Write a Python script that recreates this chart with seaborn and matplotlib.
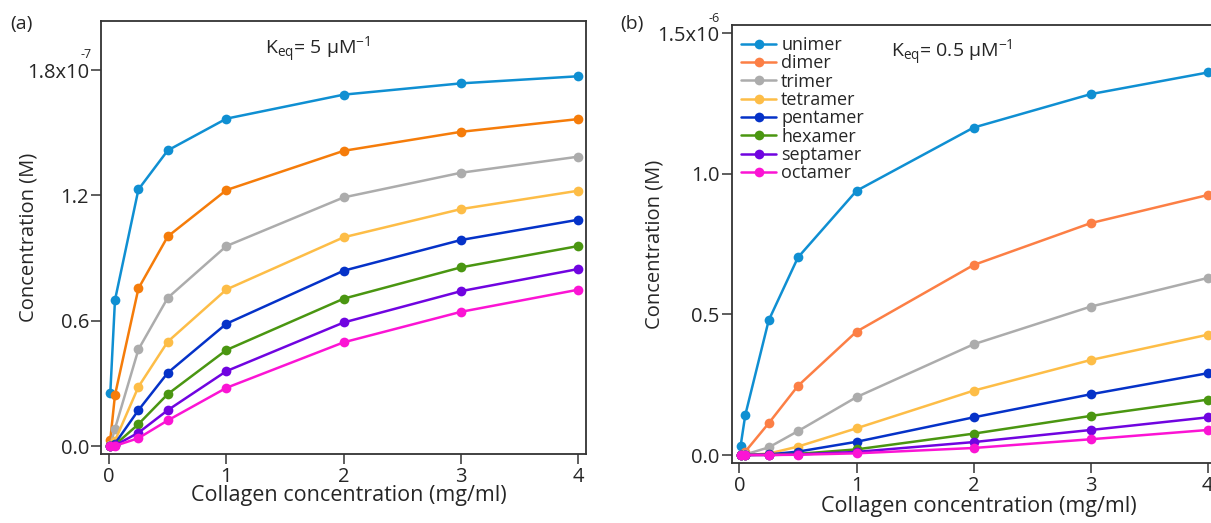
import numpy as np
import pandas as pd
import matplotlib
matplotlib.use("Agg")
import matplotlib.pyplot as plt
import seaborn as sns

sns.set_style("ticks")
plt.rcParams['font.family'] = ['Open Sans', 'DejaVu Sans']
plt.rcParams['mathtext.fontset'] = 'custom'
plt.rcParams['mathtext.rm'] = 'Open Sans'
plt.rcParams['mathtext.it'] = 'Open Sans:italic'
plt.rcParams['axes.unicode_minus'] = False

# collagen concentration (mg/ml)
collagen = [0.01, 0.05, 0.25, 0.5, 1, 2, 3, 4]
species = ['unimer', 'dimer', 'trimer', 'tetramer', 'pentamer', 'hexamer', 'septamer', 'octamer']

# Keq = 5 uM^-1, concentration in 1e-7 M
unimer_a = [0.252, 0.699, 1.229, 1.416, 1.568, 1.683, 1.737, 1.771]
dimer_a = [0.030, 0.244, 0.755, 1.004, 1.226, 1.414, 1.505, 1.566]
trimer_a = [0.004, 0.083, 0.463, 0.710, 0.958, 1.191, 1.309, 1.386]
tetramer_a = [0.001, 0.025, 0.284, 0.500, 0.750, 1.000, 1.135, 1.223]
pentamer_a = [0.000, 0.012, 0.172, 0.351, 0.586, 0.840, 0.987, 1.084]
hexamer_a = [0.000, 0.006, 0.105, 0.249, 0.460, 0.706, 0.856, 0.958]
septamer_a = [0.000, 0.003, 0.064, 0.172, 0.359, 0.592, 0.742, 0.848]
octamer_a = [0.000, 0.001, 0.038, 0.123, 0.279, 0.497, 0.643, 0.749]

# Keq = 0.5 uM^-1, concentration in 1e-6 M
unimer_b = [0.032, 0.142, 0.479, 0.703, 0.940, 1.165, 1.284, 1.361]
dimer_b = [0.001, 0.012, 0.113, 0.246, 0.439, 0.676, 0.825, 0.925]
trimer_b = [0.000, 0.002, 0.027, 0.085, 0.206, 0.394, 0.528, 0.630]
tetramer_b = [0.000, 0.000, 0.005, 0.030, 0.095, 0.229, 0.338, 0.428]
pentamer_b = [0.000, 0.000, 0.002, 0.012, 0.047, 0.134, 0.216, 0.291]
hexamer_b = [0.000, 0.000, 0.001, 0.004, 0.020, 0.076, 0.139, 0.197]
septamer_b = [0.000, 0.000, 0.000, 0.002, 0.011, 0.046, 0.089, 0.134]
octamer_b = [0.000, 0.000, 0.000, 0.001, 0.006, 0.025, 0.056, 0.089]

colors_a = ['#0f8fd2', '#f57c0a', '#acacac', '#fdbd47', '#0532c8', '#4a9611', '#7004e0', '#fb14d4']
colors_b = ['#0f8fd2', '#fc7f45', '#acacac', '#fdbd47', '#0532c8', '#4a9611', '#7004e0', '#fb14d4']


def long_form(series):
    rows = []
    for name, vals in zip(species, series):
        for xv, yv in zip(collagen, vals):
            rows.append((name, xv, yv))
    return pd.DataFrame(rows, columns=['species', 'collagen', 'conc'])


df_a = long_form([unimer_a, dimer_a, trimer_a, tetramer_a, pentamer_a, hexamer_a, septamer_a, octamer_a])
df_b = long_form([unimer_b, dimer_b, trimer_b, tetramer_b, pentamer_b, hexamer_b, septamer_b, octamer_b])

fig = plt.figure(figsize=(12.11, 5.23), dpi=100)
ax1 = fig.add_axes([0.0838, 0.1319, 0.4001, 0.8285])
ax2 = fig.add_axes([0.6043, 0.1141, 0.3993, 0.8381])

for ax, df, pal in [(ax1, df_a, colors_a), (ax2, df_b, colors_b)]:
    sns.lineplot(data=df, x='collagen', y='conc', hue='species', hue_order=species,
                 palette=pal, marker='o', markersize=7, markeredgewidth=0,
                 linewidth=1.8, ax=ax, legend=(ax is ax2))
    ax.set_xlim(-0.065, 4.065)
    ax.set_xticks([0, 1, 2, 3, 4])
    ax.set_xticklabels(['0', '1', '2', '3', '4'])
    for s in ax.spines.values():
        s.set_visible(True)
        s.set_linewidth(1.3)
        s.set_color('#333333')
    ax.tick_params(direction='out', length=7, width=1.1, color='#333333',
                   labelsize=14.5, pad=2, top=False, right=False)
    ax.set_xlabel('Collagen concentration (mg/ml)', fontsize=15.5)
    ax.set_ylabel('Concentration (M)', fontsize=14.5)

ax1.set_ylim(-0.038, 2.037)
ax1.set_yticks([0, 0.6, 1.2, 1.8])
ax1.set_yticklabels(['0.0', '0.6', '1.2', '1.8x10'])
ax1.xaxis.set_label_coords(0.51, -0.072)
ax1.yaxis.set_label_coords(-0.13, 0.5)

ax2.set_ylim(-0.0296, 1.530)
ax2.set_yticks([0, 0.5, 1.0, 1.5])
ax2.set_yticklabels(['0.0', '0.5', '1.0', '1.5x10'])
ax2.xaxis.set_label_coords(0.51, -0.075)
ax2.yaxis.set_label_coords(-0.14, 0.5)

leg = ax2.legend(loc='upper left', bbox_to_anchor=(0.02, 0.975), frameon=False,
                 fontsize=13, handlelength=1.9, handletextpad=0.3,
                 labelspacing=0.02, borderpad=0, borderaxespad=0)

# exponents of the top tick labels and Keq annotations
fig.text(86 / 1211, 1 - 54 / 523, '-7', fontsize=9, ha='center', va='center')
fig.text(714 / 1211, 1 - 19 / 523, '-6', fontsize=9, ha='center', va='center')
ax1.text(0.447, 0.932, r'K$_{\mathregular{eq}}$= 5 μM$^{\mathregular{-1}}$',
         transform=ax1.transAxes, ha='center', va='center', fontsize=14)
ax2.text(0.455, 0.936, r'K$_{\mathregular{eq}}$= 0.5 μM$^{\mathregular{-1}}$',
         transform=ax2.transAxes, ha='center', va='center', fontsize=14)

fig.text(10 / 1211, 1 - 24 / 523, '(a)', fontsize=14, ha='left', va='center')
fig.text(620 / 1211, 1 - 24 / 523, '(b)', fontsize=14, ha='left', va='center')

fig.savefig('out.png', dpi=100)
